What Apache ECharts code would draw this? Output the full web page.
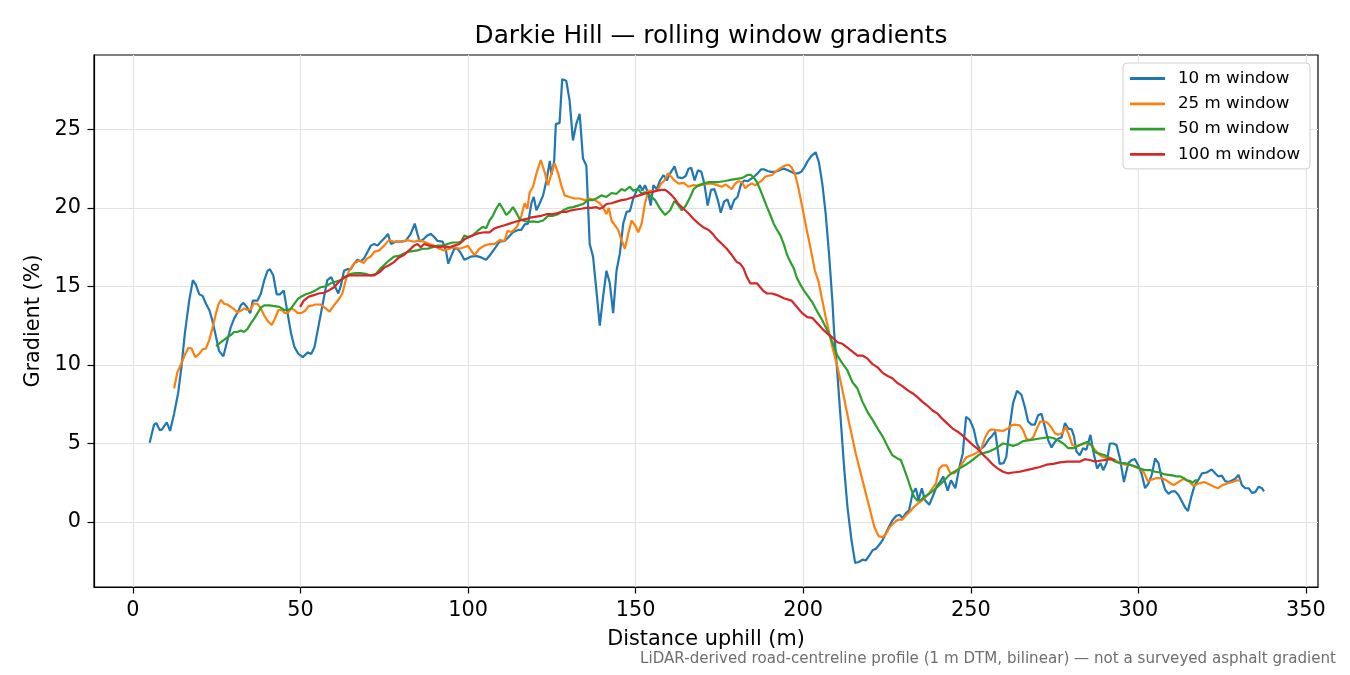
<!DOCTYPE html>
<html>
<head>
<meta charset="utf-8">
<script src="https://cdn.jsdelivr.net/npm/echarts@6/dist/echarts.min.js"></script>
<style>
html,body{margin:0;padding:0;background:#fff;}
#chart{width:1350px;height:675px;}
</style>
</head>
<body>
<div id="chart"></div>
<script>
// ---- data: [distance uphill (m), gradient (%)] ----
const window10 = [[5,5.05],[6.3,6.2],[7,6.3],[8,5.85],[8.7,5.9],[10.1,6.35],[11.1,5.8],[12.3,6.9],[13.5,8.2],[14.5,9.9],[15.5,12.0],[16.8,14.1],[17.9,15.4],[18.8,15.1],[19.8,14.5],[20.8,14.4],[21.8,13.9],[22.8,13.5],[23.7,12.85],[24.8,11.8],[25.7,10.9],[27,10.55],[28,11.4],[29.2,12.4],[30.2,12.95],[31.4,13.4],[32.2,13.8],[33,13.95],[34,13.7],[35,13.3],[35.8,14.1],[37.2,14.1],[38.2,14.55],[39.2,15.4],[40.2,16.0],[40.9,16.1],[41.9,15.7],[42.9,14.5],[43.9,14.5],[45,14.75],[46,13.5],[47.2,12.0],[48.2,11.15],[49.4,10.7],[50.7,10.5],[52.2,10.8],[53.2,10.7],[54.2,11.15],[55.5,12.6],[57,14.3],[58,15.4],[59.2,15.6],[60.3,15.0],[61.3,14.55],[62,15.0],[63,16.0],[64,16.1],[65,16.1],[66,16.45],[67,16.7],[68,16.6],[69,16.8],[70,17.2],[71,17.6],[72,17.7],[73,17.6],[74,17.85],[75.4,18.15],[76.1,18.35],[77,17.7],[78.4,17.85],[79.9,17.85],[81.4,17.9],[82.9,18.35],[84.1,19.0],[84.9,18.35],[85.6,17.85],[86.9,18.05],[87.9,18.25],[88.9,18.35],[89.9,18.15],[90.9,17.9],[92.4,17.85],[93.4,17.3],[94.1,16.45],[94.9,16.9],[95.9,17.4],[96.9,17.4],[97.9,17.1],[98.9,16.7],[99.9,16.8],[100.9,16.9],[102.4,16.95],[103.9,16.85],[105.4,16.7],[106.4,16.95],[107.9,17.4],[109.4,17.85],[110.9,17.9],[111.9,18.1],[113.4,18.45],[114.9,18.6],[115.9,18.6],[116.9,18.95],[117.9,19.0],[118.9,20.3],[119.6,20.7],[120.4,19.85],[121.4,20.3],[122.4,20.8],[123.4,21.75],[124.4,23.0],[124.9,22.1],[125.7,23.0],[126.2,25.35],[127.3,25.4],[128.1,28.2],[129.3,28.1],[130.3,26.85],[131.3,24.3],[132.3,25.35],[133.3,26.0],[134.3,23.15],[135.3,22.7],[136.3,17.7],[137.3,16.9],[138.3,14.75],[139.3,12.5],[140.3,14.35],[141.3,16.0],[142.3,15.2],[143.3,13.3],[144.3,16.0],[145.3,17.1],[146.3,19.0],[147.3,19.75],[148.3,19.8],[149.3,20.6],[150.3,21.1],[151.3,21.45],[152,21.1],[152.8,21.45],[153.8,20.9],[154.5,20.15],[155.3,21.45],[156.3,21.2],[157.3,21.75],[158.3,22.1],[159.3,21.75],[160.3,22.2],[161.6,22.65],[162.6,21.95],[164,21.9],[165,22.05],[165.8,22.5],[166.6,22.55],[167.6,21.75],[168.6,22.4],[169.6,22.3],[170.5,21.55],[171.5,20.15],[172.5,21.15],[173.5,21.2],[174.6,20.45],[175.4,19.7],[176.4,20.4],[177.4,20.55],[178.4,19.9],[179.4,20.5],[180.4,20.7],[181.5,21.55],[182.4,21.75],[183.4,21.7],[184.4,21.85],[185.4,22.0],[186.4,22.2],[187.4,22.45],[188.4,22.45],[189.4,22.35],[190.4,22.3],[191.4,22.3],[192.4,22.35],[193.4,22.45],[194.4,22.5],[195.4,22.4],[196.4,22.3],[197.4,22.2],[198.4,22.2],[199.4,22.3],[200.4,22.6],[201.4,23.0],[202.4,23.3],[203.7,23.55],[204.7,22.9],[205.7,21.55],[206.7,19.65],[207.7,17.1],[208.7,14.1],[209.2,12.2],[210.2,9.45],[211.2,6.5],[212.2,3.5],[213.2,0.97],[214.4,-1.15],[215.5,-2.6],[216.6,-2.55],[217.7,-2.4],[218.7,-2.45],[219.7,-2.15],[220.7,-1.8],[221.7,-1.7],[222.7,-1.45],[223.7,-1.15],[224.7,-0.7],[225.7,-0.25],[226.6,0.1],[227.8,0.4],[228.8,0.45],[229.6,0.25],[230.6,0.55],[231.6,0.75],[232.6,1.8],[233.6,2.15],[234.4,1.4],[235.4,2.15],[236.3,1.4],[237.6,1.1],[238.8,1.7],[239.8,2.25],[240.8,2.55],[241.8,2.9],[243.1,2.0],[244.1,2.65],[245.4,2.15],[246.6,3.5],[247.6,4.35],[248.6,6.7],[249.7,6.5],[250.9,5.9],[251.8,5.0],[252.8,4.6],[254.1,4.85],[255.3,5.25],[256.4,5.5],[257.3,5.75],[258.6,3.7],[259.8,3.75],[260.6,4.15],[261.6,6.05],[262.6,7.55],[263.8,8.35],[265.1,8.1],[266.1,7.35],[267.1,6.4],[268.1,6.2],[269.1,6.2],[270.1,6.8],[271.1,6.9],[272.1,6.05],[273.1,5.2],[274.1,4.75],[275.1,5.1],[276.1,5.3],[277.1,5.4],[278.1,6.3],[279.1,5.95],[280.1,5.9],[280.8,5.45],[281.5,4.5],[282.5,4.25],[283.5,4.7],[284.5,4.6],[285.7,5.55],[286.7,4.35],[287.7,3.4],[288.7,3.75],[289.5,3.3],[290.5,3.75],[291.5,5.0],[292.5,5.0],[293.5,4.9],[294.5,4.05],[295.7,2.55],[297,3.75],[298,3.95],[299,4.0],[300,3.6],[301,3.05],[302,2.15],[303,2.45],[304,3.0],[305,4.05],[306,3.75],[307,2.75],[308,2.05],[309,1.8],[310,1.95],[311,1.95],[312,1.7],[313,1.3],[314,0.9],[314.8,0.7],[315.8,1.6],[316.8,2.35],[317.8,2.65],[319,3.1],[320.4,3.15],[321.9,3.35],[322.9,3.1],[323.9,2.9],[324.9,2.95],[325.9,2.6],[326.9,2.55],[327.9,2.65],[328.9,2.75],[329.9,3.0],[330.9,2.35],[331.9,2.15],[332.9,2.15],[333.9,1.85],[334.9,1.9],[335.9,2.25],[336.9,2.15],[337.5,1.95]];

const window25 = [[12.3,8.5],[13.3,9.55],[14.5,10.1],[15.6,10.7],[16.6,11.1],[17.5,11.05],[18.6,10.5],[19.8,10.7],[20.8,11.0],[21.8,11.05],[22.8,11.6],[23.7,12.3],[24.8,13.3],[25.6,13.9],[26.3,14.15],[27.2,13.9],[28.2,13.85],[29.2,13.7],[30.2,13.55],[31.2,13.35],[32.2,13.45],[33.2,13.6],[34.2,13.5],[35.2,13.55],[36,13.9],[37.1,13.9],[38.2,13.6],[39.2,13.15],[40.4,12.75],[41.4,12.55],[42.4,12.95],[43.4,13.5],[44.4,13.5],[45.4,13.3],[46.4,13.35],[47.2,13.6],[48.2,13.5],[49.2,13.3],[50.2,13.3],[51.4,13.45],[52.4,13.75],[53.7,13.8],[54.5,13.85],[56,13.85],[57.5,13.6],[58.7,13.4],[60,13.8],[61.5,14.2],[62.5,14.55],[63.5,15.4],[64.5,16.0],[66,16.45],[67.5,16.65],[68.9,16.5],[70,16.8],[71,16.9],[72,17.2],[73.5,17.3],[75,17.6],[76.4,17.95],[77.9,17.85],[79.9,17.85],[81.9,17.95],[83.9,17.85],[85.4,17.95],[86.9,17.85],[88.4,17.7],[89.9,17.6],[91.4,17.4],[92.9,17.3],[94.4,17.4],[95.9,17.5],[97.4,17.4],[98.9,17.5],[99.9,17.6],[100.9,17.3],[101.9,17.0],[103.4,17.4],[104.9,17.6],[106.4,17.7],[107.9,17.7],[109.4,17.95],[110.9,17.9],[111.8,18.55],[112.9,18.45],[114.6,18.8],[115.9,19.5],[116.9,20.3],[117.7,19.95],[118.4,21.0],[119.4,21.35],[120.4,22.2],[121.7,23.05],[122.7,22.4],[123.9,21.45],[124.9,22.2],[125.8,22.85],[126.9,22.2],[127.8,21.45],[128.8,20.8],[130.3,20.7],[131.8,20.6],[133.3,20.6],[134.8,20.5],[136.3,20.6],[137.8,20.5],[139.3,20.3],[140.3,20.05],[141.3,19.6],[142,20.0],[142.8,19.2],[143.8,18.9],[144.8,18.6],[145.8,17.95],[146.8,17.4],[147.8,18.35],[148.8,19.2],[149.8,18.9],[150.8,18.45],[151.8,19.0],[152.8,20.3],[153.8,21.1],[155.2,21.05],[156.5,21.1],[157.6,21.55],[158.6,21.75],[159.6,22.2],[160.6,22.0],[161.6,21.75],[162.8,21.55],[164.3,21.6],[165.8,21.35],[167.3,21.45],[168.8,21.4],[170.3,21.5],[171.8,21.55],[172.8,21.55],[174.3,21.45],[175.8,21.35],[176.8,21.5],[177.8,21.35],[178.7,21.2],[179.7,21.55],[180.7,21.7],[181.7,21.65],[182.7,21.25],[183.7,21.45],[184.7,21.55],[185.7,21.45],[186.7,21.6],[187.7,21.75],[188.7,22.0],[189.7,22.05],[190.7,22.1],[191.7,22.3],[192.7,22.45],[193.7,22.6],[194.7,22.7],[195.7,22.75],[196.5,22.6],[197.5,22.2],[198.5,21.35],[199.5,20.3],[200.5,19.2],[201.5,18.15],[202.5,17.1],[203.5,16.0],[204.6,15.3],[205.7,14.1],[206.7,13.05],[208.7,11.15],[210.2,9.9],[211.7,8.4],[213.7,6.3],[215.7,4.35],[217.7,2.65],[219.7,0.97],[221.2,-0.3],[222.5,-0.9],[223.7,-0.97],[224.7,-0.75],[225.9,-0.3],[226.9,-0.1],[227.8,0.08],[228.6,0.15],[229.6,0.15],[230.6,0.4],[231.8,0.65],[233.1,0.97],[234.4,1.2],[235.6,1.4],[237.1,1.7],[238.6,2.15],[239.6,2.45],[240.6,3.4],[241.6,3.6],[242.8,3.6],[243.8,3.15],[245.1,3.1],[246.1,3.3],[247.4,3.7],[248.6,4.1],[249.6,4.2],[250.8,4.3],[252.1,4.45],[253.2,4.7],[254.2,5.35],[255.2,5.75],[256.1,5.9],[257.6,5.85],[259.6,5.8],[261.1,5.95],[262.1,6.15],[263.1,6.2],[264.6,6.15],[265.6,5.85],[266.6,5.3],[267.6,5.2],[268.6,5.4],[269.6,5.9],[270.7,6.4],[272,6.4],[273,6.3],[274.1,6.0],[275.1,5.65],[276.1,5.55],[277.3,5.65],[278.3,6.05],[279.3,5.55],[280.3,4.9],[281.5,4.8],[282.7,4.9],[284,5.0],[285,5.0],[286,4.9],[287,4.6],[288.5,4.25],[290,4.1],[291.5,4.1],[293,3.95],[294.5,3.75],[296,3.65],[297.5,3.65],[299,3.5],[300.5,3.4],[301.8,3.1],[302.8,2.6],[304,2.7],[305.5,2.8],[307,2.78],[308,2.7],[309,2.55],[310.5,2.35],[312,2.55],[313.5,2.75],[315,2.6],[316.5,2.3],[318,2.45],[319.6,2.55],[321.1,2.4],[322.6,2.25],[323.8,2.15],[325.1,2.35],[326.5,2.45],[328,2.55],[329.4,2.65],[330.4,2.65]];

const window50 = [[24.8,11.2],[26.3,11.45],[27.8,11.7],[29.2,11.9],[30.2,12.1],[31.2,12.1],[32.2,12.2],[33.2,12.1],[34.2,12.3],[35.2,12.65],[36.2,12.95],[37.2,13.3],[38.2,13.65],[39.2,13.8],[40.7,13.8],[42.2,13.75],[43.7,13.7],[45.2,13.5],[46.2,13.5],[47.2,13.6],[48.2,13.9],[49.2,14.2],[50.2,14.35],[51.6,14.5],[53,14.6],[54.5,14.75],[56,14.95],[57.5,15.0],[59,15.2],[60.5,15.3],[62,15.4],[63.5,15.6],[65,15.8],[66.5,15.85],[68,15.85],[69.4,15.8],[71,15.7],[72.5,15.8],[73.9,16.15],[75.4,16.45],[76.4,16.65],[77.9,16.9],[79.4,16.95],[80.9,17.1],[81.9,17.2],[83.4,17.25],[84.9,17.3],[86.4,17.4],[87.9,17.4],[89.4,17.5],[90.9,17.6],[92.4,17.6],[93.9,17.7],[95.4,17.8],[96.9,17.8],[97.9,17.85],[98.9,18.25],[99.9,18.15],[101.4,18.25],[102.9,18.55],[104.4,18.8],[105.4,18.7],[106.4,19.2],[107.4,19.5],[108.4,19.95],[109.4,20.3],[110.4,19.95],[111.4,19.55],[112.4,19.75],[113.4,20.05],[114.4,19.7],[115.4,19.3],[116.4,19.2],[117.9,19.1],[119.4,19.15],[120.9,19.1],[122.4,19.2],[123.9,19.5],[125.4,19.5],[126.9,19.6],[128.4,19.85],[129.9,20.0],[131.4,20.05],[132.8,20.15],[134.3,20.25],[135.8,20.5],[137.3,20.5],[138.3,20.6],[139.8,20.8],[141.3,20.7],[142.8,20.95],[144.3,20.9],[145.8,21.2],[146.8,21.1],[148.3,21.35],[149.3,21.1],[150.8,21.2],[151.8,20.9],[152.8,21.0],[154.3,20.8],[155.8,20.5],[157.3,19.95],[158.8,19.55],[160.3,19.85],[161.6,20.45],[162.8,20.15],[163.8,19.85],[165,20.15],[166.3,20.7],[167.3,21.2],[168.8,21.45],[170.3,21.55],[171.8,21.65],[173.3,21.65],[174.8,21.65],[176.3,21.7],[177.5,21.75],[178.7,21.8],[180.2,21.85],[181.7,21.9],[183.4,22.1],[184.4,22.1],[185.2,21.95],[186.2,21.65],[187.2,21.15],[188.2,20.6],[189.2,20.05],[190.2,19.55],[191.2,19.0],[192.2,18.6],[193.2,18.25],[194.2,17.7],[195.2,17.0],[196.2,16.55],[197.2,16.15],[198.2,15.5],[199.2,15.1],[200.2,14.75],[201.2,14.45],[202.7,14.0],[204.2,13.4],[205.7,12.85],[207.2,12.2],[208.7,11.45],[210.2,10.6],[211.7,10.1],[213.2,9.65],[214.7,8.9],[216.2,8.5],[217.7,7.65],[219.2,7.0],[220.7,6.5],[222.2,5.95],[223.7,5.45],[225.2,4.8],[226.6,4.25],[228.1,4.05],[229.1,3.95],[230.1,3.4],[231.1,2.8],[232.1,2.15],[233.1,1.6],[234.1,1.35],[235.1,1.4],[236.1,1.6],[237.6,1.8],[239.1,2.05],[240.6,2.35],[242.1,2.65],[243.6,3.0],[245.1,3.2],[246.6,3.4],[248.1,3.6],[249.6,3.8],[251.1,4.05],[252.6,4.3],[254.1,4.4],[255.6,4.5],[257.1,4.65],[258.6,4.85],[259.6,5.0],[261.1,4.95],[262.6,4.85],[264.1,4.95],[265.6,5.15],[267.1,5.2],[268.6,5.25],[270.1,5.3],[271.6,5.35],[273.1,5.4],[274.6,5.35],[276.1,5.2],[277.6,5.0],[279.1,4.7],[280.6,4.7],[282,4.85],[283.5,5.0],[284.7,5.1],[286,4.9],[287,4.45],[288.5,4.35],[290,4.25],[291.5,4.05],[293,3.85],[294.5,3.75],[296,3.75],[297.5,3.65],[299,3.55],[300.5,3.4],[302,3.3],[303.5,3.3],[305,3.2],[306.5,3.15],[307.5,3.05],[309,3.0],[310.5,2.95],[311.5,2.9],[312.5,2.9],[313.5,2.8],[314.5,2.65],[315.5,2.6],[316.2,2.5],[317,2.65],[318,2.65]];

const window100 = [[49.9,13.7],[51,14.1],[52.5,14.35],[54,14.45],[55.5,14.55],[57,14.6],[58.5,14.75],[60,14.95],[61.5,15.3],[63,15.6],[64.5,15.7],[66,15.7],[67.5,15.7],[69,15.7],[70.4,15.7],[71.9,15.7],[73.5,15.9],[75,16.2],[76.4,16.35],[77.9,16.55],[79.4,16.85],[80.9,17.0],[82.4,17.3],[83.9,17.6],[84.9,17.7],[85.9,17.5],[86.9,17.7],[88.4,17.6],[89.9,17.55],[91.4,17.5],[92.9,17.55],[94.4,17.5],[95.9,17.6],[97.4,17.7],[98.9,18.0],[100.4,18.15],[101.9,18.3],[103.4,18.4],[104.9,18.45],[106.4,18.45],[107.9,18.7],[109.4,18.8],[110.9,18.9],[112.4,19.0],[113.9,19.1],[115.4,19.2],[117.4,19.3],[118.9,19.4],[120.4,19.45],[121.9,19.5],[123.4,19.6],[124.9,19.6],[126.4,19.65],[127.8,19.75],[129.3,19.75],[130.8,19.85],[132.3,19.9],[133.8,19.95],[135.3,20.0],[136.8,20.0],[138.3,20.05],[139.3,19.95],[140.3,20.05],[141.3,20.25],[142.8,20.3],[144.3,20.4],[145.8,20.5],[147.3,20.55],[148.8,20.65],[150.3,20.75],[151.8,20.85],[153.3,20.95],[154.8,21.0],[156.3,21.1],[157.8,21.15],[158.8,21.15],[159.8,21.0],[160.8,20.8],[161.8,20.55],[162.8,20.25],[164.3,19.95],[165.8,19.65],[167.3,19.3],[168.8,19.0],[170.3,18.75],[171.8,18.6],[173,18.35],[174.3,18.0],[175.8,17.7],[177.2,17.4],[178.7,17.0],[180.2,16.55],[181.2,16.45],[182.2,16.15],[183.2,15.6],[184.2,15.2],[185.2,15.2],[186.2,15.2],[187.2,14.95],[188.2,14.7],[189.2,14.55],[190.7,14.55],[192.2,14.45],[194.2,14.25],[196.5,14.1],[198.5,13.6],[199.7,13.3],[201.2,13.05],[202.7,13.0],[204.2,12.65],[205.7,12.3],[207.2,12.0],[208.7,11.75],[210.2,11.45],[211.7,11.35],[213.2,11.1],[214.7,10.85],[216.2,10.6],[217.7,10.6],[219.2,10.4],[220.7,10.05],[222.2,9.85],[223.7,9.5],[225.2,9.3],[226.6,9.15],[228.1,8.85],[229.6,8.65],[231.1,8.4],[232.6,8.2],[234.1,7.95],[235.6,7.65],[237.1,7.4],[238.6,7.1],[240.1,6.9],[241.6,6.55],[243.1,6.25],[244.6,5.95],[246.1,5.75],[247.6,5.5],[249.1,5.2],[250.6,4.9],[252.1,4.65],[253.6,4.3],[255.1,4.0],[256.6,3.65],[258.1,3.4],[259.6,3.2],[261.1,3.1],[262.6,3.15],[264.6,3.2],[266.6,3.3],[268.6,3.4],[270.6,3.5],[272.6,3.65],[274.6,3.7],[276.6,3.8],[278.6,3.85],[280.6,3.85],[282.6,3.85],[284,4.0],[285.5,3.95],[287,3.85],[288.5,3.9],[290,3.95],[291.5,4.0],[293,3.95]];

const seriesNames = ['10 m window', '25 m window', '50 m window', '100 m window'];
const seriesData = [window10, window25, window50, window100];
const seriesColors = ['#1f77b4', '#ff7f0e', '#2ca02c', '#d62728'];
const xTicks = [0, 50, 100, 150, 200, 250, 300, 350];
const yTicks = [0, 5, 10, 15, 20, 25];

const FONT = 'DejaVu Sans';
const chart = echarts.init(document.getElementById('chart'), null, {renderer: 'canvas'});
chart.setOption({
  animation: false,
  backgroundColor: '#ffffff',
  title: {
    text: 'Darkie Hill — rolling window gradients',
    left: 706, top: 19, textAlign: 'center',
    textStyle: {fontFamily: FONT, fontSize: 24.8, fontWeight: 'normal', color: '#000'}
  },
  legend: {
    orient: 'vertical',
    left: 1123, top: 63,
    padding: [7, 10, 6, 7],
    itemGap: 8.3,
    itemWidth: 35, itemHeight: 2.8,
    icon: 'rect',
    backgroundColor: '#fff',
    borderColor: '#d0d0d0', borderWidth: 1, borderRadius: 4,
    textStyle: {fontFamily: FONT, fontSize: 16.7, color: '#000', padding: [0, 0, 0, 8], lineHeight: 17},
    data: seriesNames
  },
  grid: {
    left: 94, right: 32, top: 55, bottom: 88,
    show: true, borderColor: '#000', borderWidth: 1.2, backgroundColor: 'transparent'
  },
  xAxis: {
    type: 'value', min: -11.6, max: 353.6,
    name: 'Distance uphill (m)', nameLocation: 'middle', nameGap: 42,
    nameTextStyle: {fontFamily: FONT, fontSize: 20.8, color: '#000'},
    axisLine: {show: true, onZero: false, lineStyle: {color: '#000', width: 1.2}},
    axisTick: {show: true, length: 6.5, customValues: xTicks, lineStyle: {color: '#000', width: 1.2}},
    axisLabel: {customValues: xTicks, margin: 13, fontFamily: FONT, fontSize: 20.8, color: '#000'},
    splitLine: {show: true, lineStyle: {color: '#e3e3e3', width: 1.2}}
  },
  yAxis: {
    type: 'value', min: -4.14, max: 29.74,
    name: 'Gradient (%)', nameLocation: 'middle', nameGap: 50,
    nameTextStyle: {fontFamily: FONT, fontSize: 20.8, color: '#000'},
    axisLine: {show: true, onZero: false, lineStyle: {color: '#000', width: 1.2}},
    axisTick: {show: true, length: 6.5, customValues: yTicks, lineStyle: {color: '#000', width: 1.2}},
    axisLabel: {customValues: yTicks, margin: 13, fontFamily: FONT, fontSize: 20.8, color: '#000'},
    splitLine: {show: true, lineStyle: {color: '#e3e3e3', width: 1.2}}
  },
  graphic: [{
    type: 'text', right: 14, top: 652,
    style: {
      text: 'LiDAR-derived road-centreline profile (1 m DTM, bilinear) — not a surveyed asphalt gradient',
      fontFamily: FONT, fontSize: 15.1, fill: '#6e6e6e'
    }
  }],
  series: seriesNames.map((name, i) => ({
    name: name,
    type: 'line',
    data: seriesData[i],
    showSymbol: false,
    symbol: 'none',
    smooth: false,
    lineStyle: {color: seriesColors[i], width: 2.2},
    itemStyle: {color: seriesColors[i]},
    z: 2 + i
  }))
});
</script>
</body>
</html>
